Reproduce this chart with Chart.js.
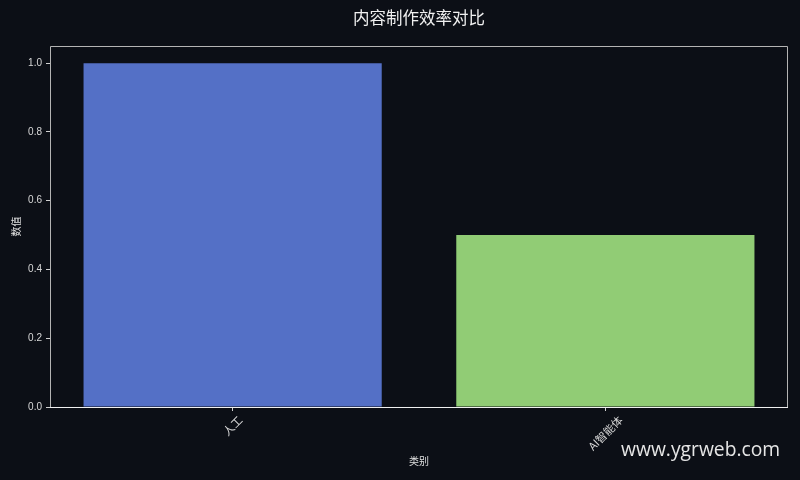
<!DOCTYPE html>
<html>
<head>
<meta charset="utf-8">
<script src="https://cdn.jsdelivr.net/npm/chart.js@4.4.0/dist/chart.umd.min.js"></script>
<style>
  html, body { margin: 0; padding: 0; background: #0c0f16; }
  #wrap { position: relative; width: 800px; height: 480px; }
  #wm { position: absolute; left: 621px; top: 435px; font-family: "Open Sans", "Noto Sans", sans-serif; font-size: 19.3px; color: #e6e6e6; }
</style>
</head>
<body>
<div id="wrap">
  <canvas id="c" width="800" height="480"></canvas>
  <div id="wm">www.ygrweb.com</div>
</div>
<script>
const titleText = '内容制作效率对比';
const xTitle = '类别';
const yTitle = '数值';
const categories = ['人工', 'AI智能体'];
const values = [1.0, 0.5];
const barColors = ['#5470c6', '#91cc75'];

const cjk = '"Noto Sans CJK SC", "Noto Sans", sans-serif';
const latin = '"Liberation Sans", "DejaVu Sans", "Noto Sans CJK SC", sans-serif';

const framePlugin = {
  id: 'frame',
  afterLayout(chart) {
    // centre the chart title over the plot area
    const t = chart.titleBlock;
    if (t) {
      t.left = chart.chartArea.left;
      t.right = chart.chartArea.right;
      t.width = t.right - t.left;
    }
  },
  afterDraw(chart) {
    const { ctx, chartArea: a } = chart;
    ctx.save();
    ctx.strokeStyle = '#b4b4b4';
    ctx.lineWidth = 1;
    ctx.beginPath();
    ctx.moveTo(a.left + 0.5, a.bottom);
    ctx.lineTo(a.left + 0.5, a.top + 0.5);
    ctx.lineTo(a.right - 0.5, a.top + 0.5);
    ctx.lineTo(a.right - 0.5, a.bottom);
    ctx.stroke();
    ctx.strokeStyle = '#f0f0f0';
    ctx.beginPath();
    ctx.moveTo(a.left, a.bottom + 0.5);
    ctx.lineTo(a.right, a.bottom + 0.5);
    ctx.stroke();
    // x tick labels, centred and rotated 45°
    const xs = chart.scales.x;
    ctx.fillStyle = '#d8d8d8';
    ctx.font = '11px ' + cjk;
    ctx.textAlign = 'center';
    ctx.textBaseline = 'middle';
    categories.forEach((lab, i) => {
      const px = xs.getPixelForValue(i);
      const w = ctx.measureText(lab).width;
      const d = w / 2 * Math.SQRT1_2;
      ctx.save();
      ctx.translate(px, a.bottom + 11 + d);
      ctx.rotate(-Math.PI / 4);
      ctx.fillText(lab, 0, 0);
      ctx.restore();
    });
    ctx.restore();
  }
};

new Chart(document.getElementById('c'), {
  type: 'bar',
  data: {
    datasets: [{
      data: values.map((v, i) => ({ x: i, y: v })),
      backgroundColor: barColors,
      borderWidth: 0,
      barPercentage: 0.8,
      categoryPercentage: 1.0
    }]
  },
  options: {
    responsive: false,
    animation: false,
    devicePixelRatio: 1,
    layout: { padding: { left: 0, right: 12, top: 0, bottom: 0 } },
    plugins: {
      legend: { display: false },
      tooltip: { enabled: false },
      title: {
        display: true,
        text: titleText,
        color: '#f0f0f0',
        font: { family: cjk, size: 16.5, weight: 'normal', lineHeight: 1.2 },
        padding: { top: 8, bottom: 18.2 }
      }
    },
    scales: {
      x: {
        type: 'linear',
        min: -0.49,
        max: 1.49,
        offset: false,
        afterFit(s) { s.height = 73; },
        afterBuildTicks(s) { s.ticks = categories.map((_, i) => ({ value: i })); },
        border: { display: false },
        grid: { offset: false, drawOnChartArea: false, drawTicks: true, tickLength: 4, color: '#d0d0d0', tickWidth: 1 },
        ticks: {
          autoSkip: false,
          maxRotation: 0,
          callback: () => '',
          padding: 0
        },
        title: {
          display: true,
          text: xTitle,
          color: '#e0e0e0',
          font: { family: cjk, size: 10, lineHeight: 1.2 },
          padding: { top: 13, bottom: 13 }
        }
      },
      y: {
        min: 0,
        max: 1.05,
        afterFit(s) { s.width = 50; },
        border: { display: false },
        grid: { drawOnChartArea: false, drawTicks: true, tickLength: 4, color: '#d0d0d0' },
        ticks: {
          stepSize: 0.2,
          includeBounds: false,
          padding: 4,
          color: '#d8d8d8',
          font: { family: latin, size: 10 },
          callback: v => Number(v).toFixed(1)
        },
        title: {
          display: true,
          text: yTitle,
          color: '#e0e0e0',
          font: { family: cjk, size: 10, lineHeight: 1.2 },
          padding: { top: 10, bottom: 0 }
        }
      }
    }
  },
  plugins: [framePlugin]
});
</script>
</body>
</html>
